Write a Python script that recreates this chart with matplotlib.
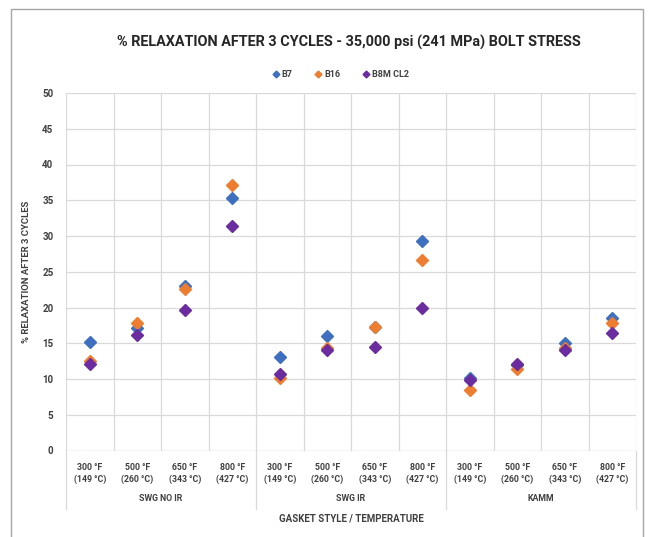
import numpy as np
import matplotlib
matplotlib.use('Agg')
import matplotlib.pyplot as plt
from matplotlib import transforms, patches
from matplotlib.lines import Line2D

plt.rcParams['font.family'] = ['Roboto', 'DejaVu Sans']

# data
groups = ['SWG NO IR', 'SWG IR', 'KAMM']
temps = ['300 °F\n(149 °C)', '500 °F\n(260 °C)', '650 °F\n(343 °C)', '800 °F\n(427 °C)']
series_names = ['B7', 'B16', 'B8M CL2']
b7 = [15.2, 17.1, 23.0, 35.3, 13.1, 16.0, 17.3, 29.3, 10.1, 12.0, 15.0, 18.5]
b16 = [12.5, 17.9, 22.6, 37.2, 10.1, 14.3, 17.3, 26.6, 8.5, 11.4, 14.3, 17.8]
b8m = [12.1, 16.2, 19.6, 31.4, 10.7, 14.1, 14.5, 20.0, 9.9, 12.1, 14.1, 16.4]
colors = ['#3F6FBF', '#ED7D31', '#6A2C9E']

txt = '#404040'
grid_c = '#D9D9D9'

fig = plt.figure(figsize=(6.5, 5.37), dpi=100)
# outer chart frame
fig.patches.append(patches.Rectangle((11/650, -0.05), 632/650, 1.05 - 9/537,
                                     transform=fig.transFigure, fill=False,
                                     edgecolor='#A6A6A6', lw=1.0))

ax = fig.add_axes([66/650, 86.5/537, 570/650, 357.5/537])

n = len(b7)
x = np.arange(n)
for vals, c, name in zip([b7, b16, b8m], colors, series_names):
    ax.plot(x, vals, linestyle='none', marker='D', markersize=5.8,
            color=c, label=name, zorder=3)

ax.set_xlim(-0.5, n - 0.5)
ax.set_ylim(0, 50)
ax.set_yticks(np.arange(0, 51, 5))
ax.set_xticks(np.arange(-0.5, n, 1), minor=False)
ax.set_xticklabels([])
ax.tick_params(axis='both', length=0)
ax.tick_params(axis='y', labelsize=7, labelcolor=txt, pad=9)
for lab in ax.get_yticklabels():
    lab.set_fontweight('bold')
ax.grid(True, color=grid_c, lw=0.9)
ax.set_axisbelow(True)
for s in ax.spines.values():
    s.set_visible(False)
ax.axhline(0, color='#BFBFBF', lw=0.9, ls=(0, (2, 1.5)), zorder=2)

# category and group labels under the axis
trans = transforms.blended_transform_factory(ax.transData, ax.transAxes)
for i in range(n):
    ax.text(i, -0.035, temps[i % 4], transform=trans, ha='center', va='top',
            fontsize=6.3, fontweight='bold', color=txt, linespacing=1.35)
for g, name in enumerate(groups):
    ax.text(g * 4 + 1.5, -0.135, name, transform=trans, ha='center', va='center',
            fontsize=6.3, fontweight='bold', color=txt)
for b in [-0.5, 3.5, 7.5, 11.5]:
    ax.add_line(Line2D([b, b], [0, -0.165], transform=trans, color=grid_c,
                       lw=0.9, clip_on=False))

ax.text(0.5, -0.19, 'GASKET STYLE / TEMPERATURE', transform=ax.transAxes,
        ha='center', va='center', fontsize=7, fontweight='bold', color=txt)
ax.set_ylabel('% RELAXATION AFTER 3 CYCLES', fontsize=6.8, fontweight='bold',
              color=txt, labelpad=8)

fig.text(0.537, 1 - 42/537, '% RELAXATION AFTER 3 CYCLES - 35,000 psi (241 MPa) BOLT STRESS',
         ha='center', va='center', fontsize=10.4, fontweight='bold', color='#262626')

leg = ax.legend(loc='center', bbox_to_anchor=(0.48, 1.052), ncol=3, frameon=False,
                fontsize=6.5, handletextpad=0.1, columnspacing=2.2,
                markerscale=0.6, handlelength=1.2)
for t in leg.get_texts():
    t.set_color(txt)
    t.set_fontweight('bold')

fig.savefig('out.png', dpi=100)
